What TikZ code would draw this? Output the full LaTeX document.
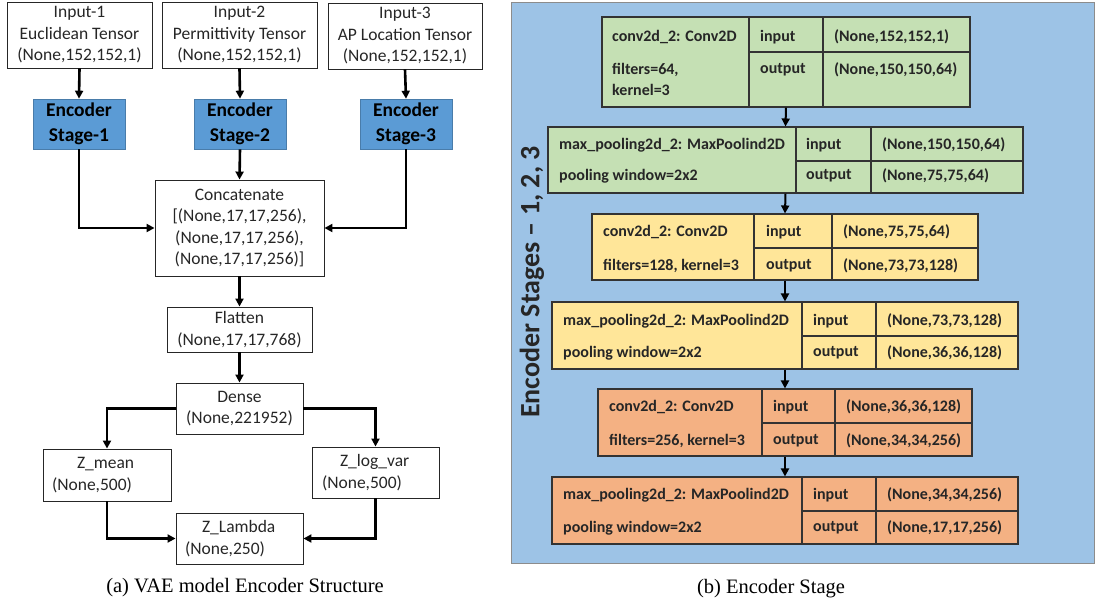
\documentclass[tikz,border=0pt]{standalone}
\usepackage{fontspec}
\setmainfont{Carlito}
\newfontfamily\capfont{Liberation Serif}
\usetikzlibrary{arrows.meta}
\definecolor{stageblue}{HTML}{5B9BD5}
\definecolor{bgblue}{HTML}{9DC3E6}
\definecolor{lgreen}{HTML}{C5E0B4}
\definecolor{lyellow}{HTML}{FFE699}
\definecolor{lorange}{HTML}{F4B183}
\definecolor{txt}{HTML}{262626}
\tikzset{
  box/.style={draw=black!85, line width=0.9pt, fill=white, inner sep=0pt, align=center,
    font=\fontsize{17.5}{21.5}\selectfont, text=txt},
  stagebox/.style={draw=stageblue!80!black, line width=0.6pt, fill=stageblue, inner sep=0pt, align=center,
    font=\fontsize{19.5}{25}\selectfont\bfseries, text=black},
  arr/.style={line width=2.6pt, -{Triangle[length=8pt,width=8pt]}},
  arrb/.style={line width=2pt, -{Triangle[length=8pt,width=8pt]}},
  tbl/.style={draw=black!80, line width=1.1pt, inner sep=0pt},
  tline/.style={draw=black!80, line width=1.1pt},
  tt/.style={anchor=west, inner sep=0pt, font=\fontsize{16}{19}\selectfont\bfseries, text=txt},
  captext/.style={font=\capfont\fontsize{20.5}{24}\selectfont, text=black, inner sep=0pt}
}
\begin{document}
\begin{tikzpicture}[x=1pt,y=-1pt]
\useasboundingbox (0,0) rectangle (1096,605);
% ---------------- left panel ----------------
\node[box, minimum width=145pt, minimum height=66pt] (in1) at (79.5,35) {Input-1\\Euclidean Tensor\\(None,152,152,1)};
\node[box, minimum width=155pt, minimum height=66pt] (in2) at (239.5,35) {Input-2\\Permittivity Tensor\\(None,152,152,1)};
\node[box, minimum width=154pt, minimum height=66pt] (in3) at (405,36) {Input-3\\AP Location Tensor\\(None,152,152,1)};
\node[stagebox, minimum width=92pt, minimum height=50pt] (st1) at (79,124) {Encoder\\Stage-1};
\node[stagebox, minimum width=92pt, minimum height=50pt] (st2) at (240,124) {Encoder\\Stage-2};
\node[stagebox, minimum width=92pt, minimum height=50pt] (st3) at (406,124) {Encoder\\Stage-3};
\node[box, minimum width=169pt, minimum height=96pt] (cat) at (239.5,228) {Concatenate\\{}[(None,17,17,256),\\(None,17,17,256),\\(None,17,17,256)]};
\node[box, minimum width=145pt, minimum height=45pt] (fl) at (239.5,329.5) {Flatten\\(None,17,17,768)};
\node[box, minimum width=127pt, minimum height=51pt] (de) at (239.5,408.5) {Dense\\(None,221952)};
\node[box, minimum width=128pt, minimum height=52pt, text width=110pt, align=left] (zm) at (107,475) {\hspace*{25pt}Z\_mean\\(None,500)};
\node[box, minimum width=127pt, minimum height=51pt, text width=107pt, align=left] (zl) at (375.5,472.5) {\hspace*{18pt}Z\_log\_var\\(None,500)};
\node[box, minimum width=127pt, minimum height=51pt, text width=109pt, align=left] (zz) at (239.5,538.5) {\hspace*{17pt}Z\_Lambda\\(None,250)};
\draw[arr] (in1.south) -- (st1.north);
\draw[arr] (in2.south) -- (st2.north);
\draw[arr] (in3.south) -- (st3.north);
\draw[arr] (st1.south) |- (cat.west);
\draw[arr] (st2.south) -- (cat.north);
\draw[arr] (st3.south) |- (cat.east);
\draw[arr] (cat.south) -- (fl.north);
\draw[arr] (fl.south) -- (de.north);
\draw[arr] (de.west) -| (zm.north);
\draw[arr] (de.east) -| (zl.north);
\draw[arr] (zm.south) |- (zz.west);
\draw[arr] (zl.south) |- (zz.east);
\node[captext] (capa) at (245,588) {(a) VAE model Encoder Structure};
% ---------------- right panel ----------------
\node[draw=black!45, line width=0.8pt, fill=bgblue, minimum width=583pt, minimum height=561pt, inner sep=0pt] (bg) at (802.5,282.5) {};
\node[rotate=90, inner sep=0pt, font=\fontsize{28}{32}\selectfont\bfseries, text=txt] (vt) at (532,282) {Encoder Stages – 1, 2, 3};
% table 1
\node[tbl, fill=lgreen, minimum width=368pt, minimum height=90pt] (t1) at (786,62) {};
\draw[tline] (749,17) -- (749,107) (823,17) -- (823,107) (749,52) -- (970,52);
\node[tt] (t1a) at (612,37) {conv2d\_2: Conv2D};
\node[tt] (t1b) at (612,70) {filters=64,};
\node[tt] (t1g) at (612,90) {kernel=3};
\node[tt] (t1c) at (760,37) {input};
\node[tt] (t1d) at (760,70) {output};
\node[tt] (t1e) at (834,37) {(None,152,152,1)};
\node[tt] (t1f) at (834,70) {(None,150,150,64)};
% table 2
\node[tbl, fill=lgreen, minimum width=475pt, minimum height=66pt] (t2) at (785.5,160) {};
\draw[tline] (796,127) -- (796,193) (871,127) -- (871,193) (796,161) -- (1023,161);
\node[tt] (t2a) at (559,145) {max\_pooling2d\_2: MaxPoolind2D};
\node[tt] (t2b) at (559,176) {pooling window=2x2};
\node[tt] (t2c) at (806,145) {input};
\node[tt] (t2d) at (806,176) {output};
\node[tt] (t2e) at (882,145) {(None,150,150,64)};
\node[tt] (t2f) at (882,176) {(None,75,75,64)};
% table 3
\node[tbl, fill=lyellow, minimum width=386pt, minimum height=66pt] (t3) at (785,247) {};
\draw[tline] (754,214) -- (754,280) (832,214) -- (832,280) (754,248) -- (978,248);
\node[tt] (t3a) at (603,232) {conv2d\_2: Conv2D};
\node[tt] (t3b) at (603,266) {filters=128, kernel=3};
\node[tt] (t3c) at (766,232) {input};
\node[tt] (t3d) at (766,266) {output};
\node[tt] (t3e) at (843,232) {(None,75,75,64)};
\node[tt] (t3f) at (843,266) {(None,73,73,128)};
% table 4
\node[tbl, fill=lyellow, minimum width=466pt, minimum height=67pt] (t4) at (785,335.5) {};
\draw[tline] (802,302) -- (802,369) (876,302) -- (876,369) (802,336) -- (1018,336);
\node[tt] (t4a) at (563,321) {max\_pooling2d\_2: MaxPoolind2D};
\node[tt] (t4b) at (563,353) {pooling window=2x2};
\node[tt] (t4c) at (813,321) {input};
\node[tt] (t4d) at (813,353) {output};
\node[tt] (t4e) at (887,321) {(None,73,73,128)};
\node[tt] (t4f) at (887,353) {(None,36,36,128)};
% table 5
\node[tbl, fill=lorange, minimum width=374pt, minimum height=67pt] (t5) at (785,422.5) {};
\draw[tline] (762,389) -- (762,456) (835,389) -- (835,456) (762,423) -- (972,423);
\node[tt] (t5a) at (609,407) {conv2d\_2: Conv2D};
\node[tt] (t5b) at (609,441) {filters=256, kernel=3};
\node[tt] (t5c) at (773,407) {input};
\node[tt] (t5d) at (773,441) {output};
\node[tt] (t5e) at (846,407) {(None,36,36,128)};
\node[tt] (t5f) at (846,441) {(None,34,34,256)};
% table 6
\node[tbl, fill=lorange, minimum width=466pt, minimum height=67pt] (t6) at (785,510.5) {};
\draw[tline] (802,477) -- (802,544) (876,477) -- (876,544) (802,511) -- (1018,511);
\node[tt] (t6a) at (563,495) {max\_pooling2d\_2: MaxPoolind2D};
\node[tt] (t6b) at (563,528) {pooling window=2x2};
\node[tt] (t6c) at (813,495) {input};
\node[tt] (t6d) at (813,528) {output};
\node[tt] (t6e) at (887,495) {(None,34,34,256)};
\node[tt] (t6f) at (887,528) {(None,17,17,256)};
% arrows
\draw[arrb] (t1.south) -- (t2.north);
\draw[arrb] (t2.south) -- (t3.north);
\draw[arrb] (t3.south) -- (t4.north);
\draw[arrb] (t4.south) -- (t5.north);
\draw[arrb] (t5.south) -- (t6.north);
\node[captext] (capb) at (771,589) {(b) Encoder Stage};
\end{tikzpicture}
\end{document}
